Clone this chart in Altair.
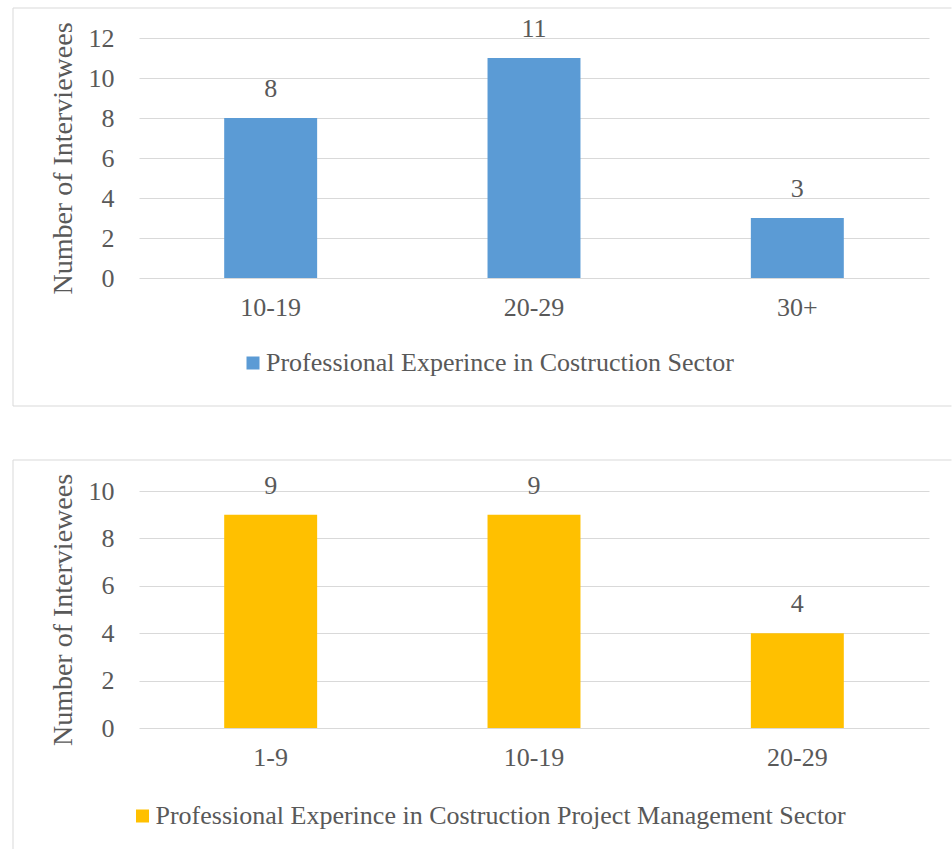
import altair as alt
import pandas as pd

# Years of professional experience in the construction sector
construction_groups = ["10-19", "20-29", "30+"]
construction_counts = [8, 11, 3]

# Years of professional experience in construction project management
pm_groups = ["1-9", "10-19", "20-29"]
pm_counts = [9, 9, 4]

construction_series = "Professional Experince in Costruction Sector"
pm_series = "Professional Experince in Costruction Project Management Sector"

FONT = "Liberation Serif"
TEXT = "#595959"
GRID = "#D9D9D9"
FRAME = "#D9D9D9"
PLOT_W = 790


def panel(groups, counts, series, color, y_max, height, legend_x, legend_y,
          frame_top, frame_bottom, close_bottom):
    df = pd.DataFrame({"group": groups, "count": counts, "series": series})
    base = alt.Chart(df)

    x = alt.X(
        "group:N", sort=groups, title=None,
        scale=alt.Scale(paddingInner=0.647, paddingOuter=0.3235),
        axis=alt.Axis(labelAngle=0, labelFont=FONT, labelFontSize=26,
                      labelColor=TEXT, labelPadding=16, ticks=False,
                      domain=False, grid=False),
    )
    y = alt.Y(
        "count:Q", title="Number of Interviewees",
        scale=alt.Scale(domain=[0, y_max], nice=False),
        axis=alt.Axis(values=list(range(0, y_max + 1, 2)), labelFont=FONT,
                      labelFontSize=26, labelColor=TEXT, labelPadding=25,
                      labelOverlap=False, ticks=False, tickSize=0,
                      domain=False, grid=True, gridColor=GRID, gridWidth=1,
                      titleFont=FONT, titleFontSize=28, titleColor=TEXT,
                      titleFontWeight="normal", titlePadding=11),
    )

    bars = base.mark_bar().encode(
        x=x, y=y,
        color=alt.Color(
            "series:N", scale=alt.Scale(range=[color]),
            legend=alt.Legend(orient="none", legendX=legend_x,
                              legendY=legend_y, title=None,
                              symbolType="square", symbolSize=169,
                              symbolStrokeWidth=0, symbolOffset=2,
                              labelFont=FONT, labelFontSize=26,
                              labelColor=TEXT, labelOffset=0,
                              labelLimit=2000, padding=0),
        ),
    )
    labels = base.mark_text(dy=-29, baseline="middle", font=FONT,
                            fontSize=26, color=TEXT).encode(
        x=x, y=y, text="count:Q")

    # panel frame around axes, bars and legend
    frame = alt.Chart(pd.DataFrame({"k": [0]}))
    layers = [
        frame.mark_rule(color=FRAME, strokeWidth=1).encode(
            x=alt.value(-126), x2=alt.value(812.5), y=alt.value(frame_top)),
        frame.mark_rule(color=FRAME, strokeWidth=1).encode(
            x=alt.value(-126), y=alt.value(frame_top), y2=alt.value(frame_bottom)),
    ]
    if close_bottom:
        layers.append(frame.mark_rule(color=FRAME, strokeWidth=1).encode(
            x=alt.value(-126), x2=alt.value(812.5), y=alt.value(frame_bottom)))

    return alt.layer(*layers, bars, labels).properties(width=PLOT_W, height=height)


top = panel(construction_groups, construction_counts, construction_series,
            "#5B9BD5", 12, 240, 99, 312, -30, 368, True)
bottom = panel(pm_groups, pm_counts, pm_series,
               "#FFC000", 10, 237, -11.5, 312, -31, 358, False)

chart = alt.vconcat(top, bottom, spacing=52).resolve_scale(
    x="independent", y="independent", color="independent"
).resolve_legend(color="independent").properties(
    padding={"left": 12, "top": 7, "right": 0, "bottom": 0},
    background="white",
).configure_view(stroke=None)

chart.save("out.html", embed_options={"renderer": "svg", "actions": False})
